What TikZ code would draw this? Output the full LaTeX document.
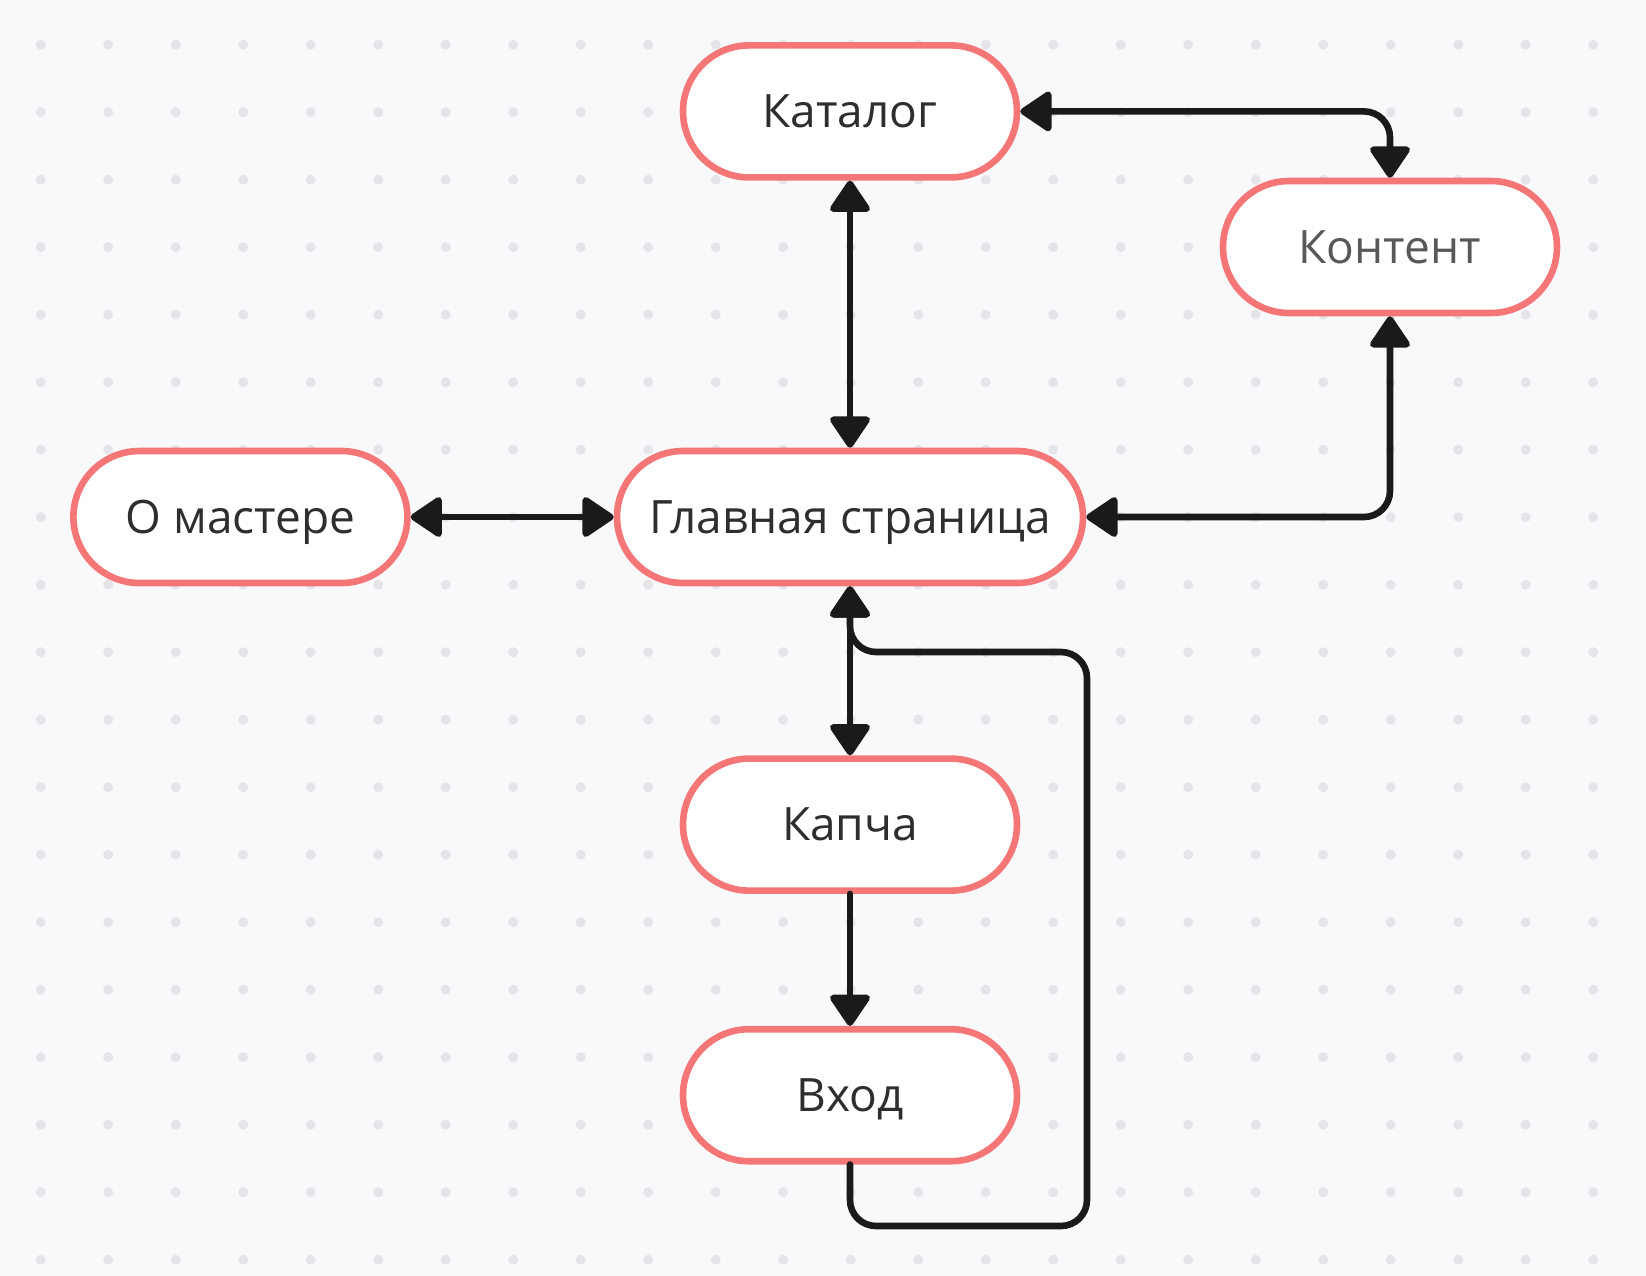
\documentclass[tikz,border=0pt]{standalone}
\usepackage{fontspec}
\setmainfont{Open Sans}
\usepackage{xcolor}
\usepackage{tikz}
\usetikzlibrary{arrows.meta,positioning}
\definecolor{Ink}{HTML}{2E2E2E}
\definecolor{Wire}{HTML}{1A1A1A}
\definecolor{Coral}{HTML}{F57677}
\definecolor{Paper}{HTML}{F9F9FB}
\definecolor{Dot}{HTML}{E5E5E9}

\begin{document}
\begin{tikzpicture}[x=0.5pt,y=-0.5pt,>={Triangle[length=17pt,width=22pt,round]}]
\tikzset{pagebox/.style={rounded corners=33pt,minimum width=167pt,minimum height=66pt,align=center,draw=Coral,line width=3.3pt,fill=white,text=Ink,font=\fontsize{23}{27}\selectfont,text height=16.3pt,text depth=0pt}, link/.style={line width=3.3pt,draw=Wire,line cap=round,line join=round}}
% dotted canvas
\fill[Paper] (0,0) rectangle (1646,1276);
\foreach \i in {0,...,23}
  \foreach \j in {0,...,18}
    \fill[Dot] (40.7+67.5*\i,44.7+67.5*\j) circle (2.5pt);
\node[pagebox,minimum width=233pt] (main) at (850,517) {Главная страница};
\node[pagebox,above=133.5pt of main] (catalog) {Каталог};
\node[pagebox,left=101.5pt of main] (master) {О мастере};
\node[pagebox,below=84.5pt of main] (captcha) {Капча};
\node[pagebox,below=66pt of captcha] (login) {Вход};
\node[pagebox,text=Ink!80] (content) at (1390,247) {Контент};
\draw[link,<->] (catalog) -- (main);
\draw[link,<->] (master) -- (main);
\draw[link,<->] (main) -- (captcha);
\draw[link,->] (captcha) -- (login);
\draw[link,<->,rounded corners=13pt] (catalog.east) -| (content.north);
\draw[link,<->,rounded corners=13pt] (main.east) -| (content.south);
% loop back from login
\coordinate (loopdown) at (1087,1226);
\coordinate (loopup) at (1087,652);
\draw[link,->,rounded corners=13pt] (login.south) |- (loopdown) -- (loopup) -| (main.south);
\end{tikzpicture}
\end{document}
